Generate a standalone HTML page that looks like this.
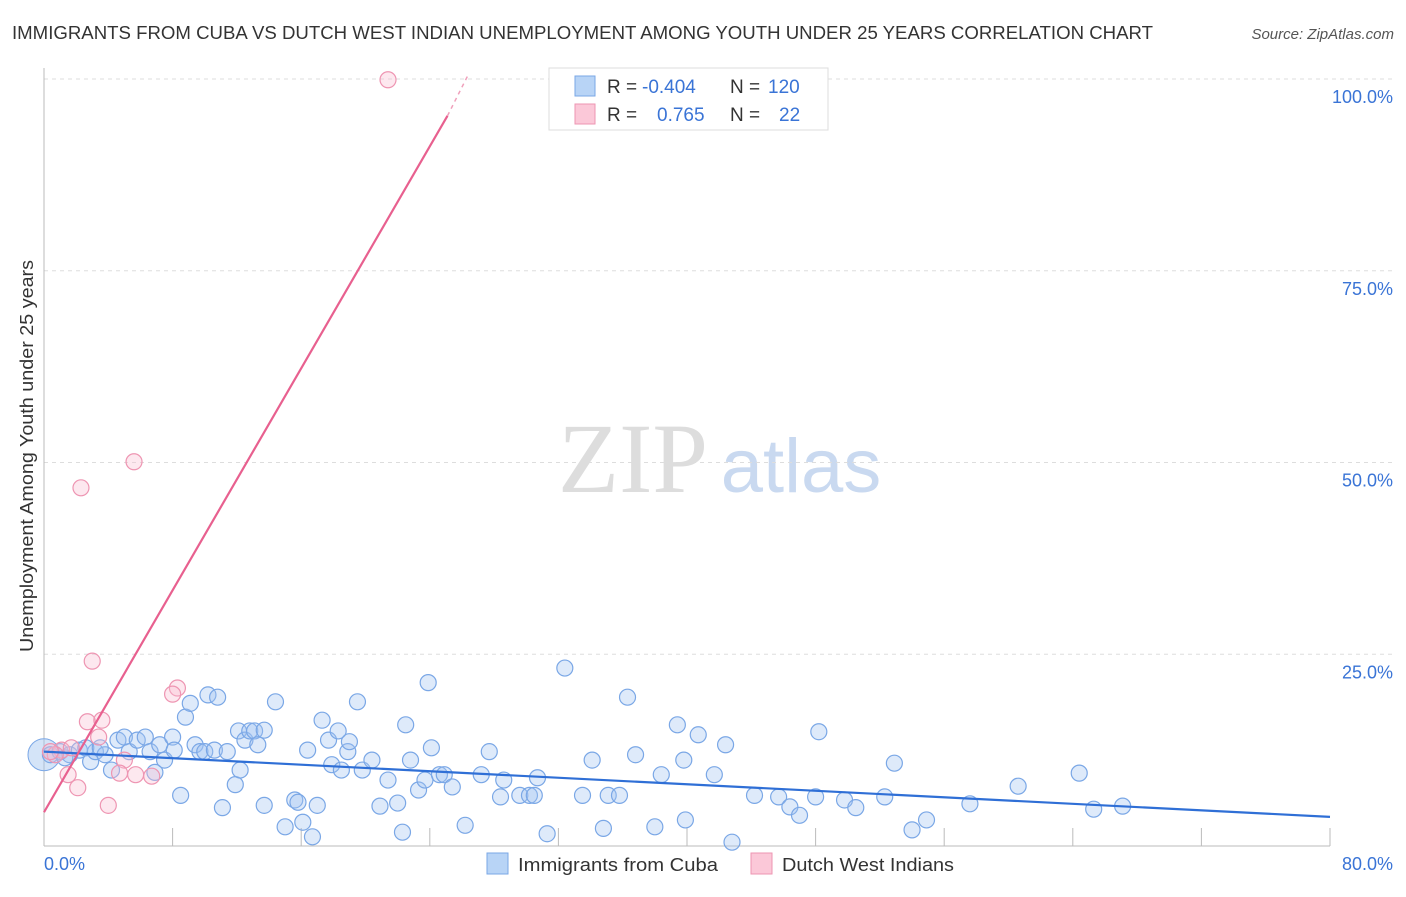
<!DOCTYPE html>
<html><head><meta charset="utf-8"><style>
body{margin:0;background:#fff;font-family:"Liberation Sans",sans-serif;}
svg text{font-family:"Liberation Sans",sans-serif;}
</style></head><body>
<svg id="chart" width="1406" height="892">
<text x="12" y="39" font-size="18" fill="#333" textLength="1141" lengthAdjust="spacingAndGlyphs">IMMIGRANTS FROM CUBA VS DUTCH WEST INDIAN UNEMPLOYMENT AMONG YOUTH UNDER 25 YEARS CORRELATION CHART</text>
<text x="1394" y="39" font-size="15" fill="#555" font-style="italic" text-anchor="end">Source: ZipAtlas.com</text>
<text x="633" y="492" font-size="100" fill="#ddd" style="font-family:'Liberation Serif',serif" text-anchor="middle">ZIP</text>
<text x="801" y="492" font-size="76" fill="#c9d9f0" text-anchor="middle">atlas</text>
<text transform="translate(33,456) rotate(-90)" font-size="18" fill="#333" text-anchor="middle" textLength="392" lengthAdjust="spacingAndGlyphs">Unemployment Among Youth under 25 years</text>
<g id="grid"></g><g id="axes"></g><g id="marks"></g>
<g>
<rect x="549" y="68" width="279" height="62" fill="#fff" stroke="#ddd"/>
<rect x="575" y="76" width="20" height="20" fill="#b8d4f6" stroke="#7aa7e6"/>
<rect x="575" y="104" width="20" height="20" fill="#fbc8d8" stroke="#ee95b2"/>
<text x="607" y="93" font-size="19" fill="#333">R = <tspan fill="#3a74d6" x="642">-0.404</tspan></text>
<text x="730" y="93" font-size="19" fill="#333">N = <tspan fill="#3a74d6" x="768">120</tspan></text>
<text x="607" y="121" font-size="19" fill="#333">R = <tspan fill="#3a74d6" x="657">0.765</tspan></text>
<text x="730" y="121" font-size="19" fill="#333">N = <tspan fill="#3a74d6" x="779">22</tspan></text>
</g>
<g>
<rect x="487" y="853" width="21" height="21" fill="#b8d4f6" stroke="#7aa7e6"/>
<text x="518" y="871" font-size="18" fill="#333" textLength="200" lengthAdjust="spacingAndGlyphs">Immigrants from Cuba</text>
<rect x="751" y="853" width="21" height="21" fill="#fbc8d8" stroke="#ee95b2"/>
<text x="782" y="871" font-size="18" fill="#333" textLength="172" lengthAdjust="spacingAndGlyphs">Dutch West Indians</text>
</g>
</svg>
<script>
const blueX=[0.4,1.0,1.6,2.2,2.9,3.2,3.8,4.2,4.6,5.0,5.3,5.8,6.3,6.6,6.9,7.2,7.5,8.0,8.1,8.5,8.8,9.1,9.4,9.7,10.0,10.2,10.6,10.8,11.1,11.4,11.9,12.1,12.2,12.5,12.8,13.1,13.3,13.7,13.7,14.4,15.0,15.6,15.8,16.1,16.4,16.7,17.0,17.3,17.7,17.9,18.3,18.5,18.9,19.0,19.5,19.8,20.4,20.9,21.4,22.0,22.3,22.5,22.8,23.3,23.7,23.9,24.1,24.6,24.9,25.4,26.2,27.2,27.7,28.4,28.6,29.6,30.2,30.5,30.7,31.3,32.4,33.5,34.1,34.8,35.1,35.8,36.3,36.8,38.0,38.4,39.4,39.8,39.9,40.7,41.7,42.4,42.8,44.2,45.7,46.4,47.0,48.0,48.2,49.8,50.5,52.3,52.9,54.0,54.9,57.6,60.6,64.4,65.3,67.1,1.3,2.6,3.5];
const blueY=[11.9,12.3,11.9,12.5,11.0,12.3,11.9,9.9,13.8,14.2,12.3,13.8,14.2,12.3,9.6,13.2,11.2,14.2,12.5,6.6,16.8,18.6,13.2,12.3,12.3,19.7,12.5,19.4,5.0,12.3,8.0,15.0,9.9,13.8,15.0,15.0,13.2,15.1,5.3,18.8,2.5,6.0,5.7,3.1,12.5,1.2,5.3,16.4,13.8,10.6,15.0,9.9,12.3,13.6,18.8,9.9,11.2,5.2,8.6,5.6,1.8,15.8,11.2,7.3,8.6,21.3,12.8,9.3,9.3,7.7,2.7,9.3,12.3,6.4,8.6,6.6,6.6,6.6,8.9,1.6,23.2,6.6,11.2,2.3,6.6,6.6,19.4,11.9,2.5,9.3,15.8,11.2,3.4,14.5,9.3,13.2,0.5,6.6,6.4,5.1,4.0,6.4,14.9,6.0,5.0,6.4,10.8,2.1,3.4,5.5,7.8,9.5,4.8,5.2,11.5,12.8,12.8];
const pinkX=[21.4,5.6,2.3,3.0,8.3,8.0,2.7,3.6,3.4,5.0,1.1,0.7,1.5,2.1,4.0,5.7,6.7,4.7,1.7,0.4];
const pinkY=[99.9,50.1,46.7,24.1,20.6,19.8,16.2,16.4,14.2,11.2,12.5,11.9,9.3,7.6,5.3,9.3,9.1,9.5,12.8,12.3];
const bigBubble=[0,11.9];
const blueTrend=[[0,12.3],[80,3.8]];
const pinkTrendSolid=[[0,4.4],[25.1,95.2]];
const pinkTrendDash=[[25.1,95.2],[26.4,100.6]];
const yTicks=[100,75,50,25];
const yTickLabels=["100.0%","75.0%","50.0%","25.0%"];
const xTicks=[0,8,16,24,32,40,48,56,64,72,80];
const xLabels=[[0,"0.0%"],[80,"80.0%"]];
const NS="http://www.w3.org/2000/svg";
const X=v=>44+v*16.075, Y=v=>846-v*7.67;
function mk(parent,tag,at){const e=document.createElementNS(NS,tag);for(const k in at)e.setAttribute(k,at[k]);document.getElementById(parent).appendChild(e);return e;}
yTicks.forEach((t,i)=>{
 const l=mk('grid','line',{x1:44,x2:1394,y1:Y(t),y2:Y(t),stroke:'#ddd','stroke-dasharray':'4,4'});
 
 
 const tx=mk('grid','text',{x:1393,y:Y(t)+24,'font-size':18,fill:'#3a74d6','text-anchor':'end'});
 tx.textContent=yTickLabels[i];
 
 
});
const ax=mk('axes','line',{x1:44,x2:44,y1:68,y2:846,stroke:'#bbb'});


const bx=mk('axes','line',{x1:44,x2:1330,y1:846,y2:846,stroke:'#bbb'});


xTicks.forEach(t=>{
 const l=mk('axes','line',{x1:X(t),x2:X(t),y1:828,y2:846,stroke:'#bbb'});
 
 
});
xLabels.forEach(([v,s])=>{
 const tx=mk('axes','text',{x:v===0?X(v):1393,y:870,'font-size':18,fill:'#3a74d6','text-anchor':v===0?'start':'end'});
 tx.textContent=s;
 
 
});
const bb=mk('marks','circle',{cx:X(bigBubble[0]),cy:Y(bigBubble[1]),r:16,fill:'rgba(160,195,240,0.45)',stroke:'#7aa7e6'});


blueX.forEach((x,i)=>{
 const c=mk('marks','circle',{cx:X(x),cy:Y(blueY[i]),r:8,fill:'rgba(160,195,240,0.35)',stroke:'#7aa7e6','stroke-width':1.2});
 
 
});
pinkX.forEach((x,i)=>{
 const c=mk('marks','circle',{cx:X(x),cy:Y(pinkY[i]),r:8,fill:'rgba(250,190,210,0.35)',stroke:'#ee95b2','stroke-width':1.2});
 
 
});
const bl=mk('marks','line',{x1:X(blueTrend[0][0]),y1:Y(blueTrend[0][1]),x2:X(blueTrend[1][0]),y2:Y(blueTrend[1][1]),stroke:'#2f6fd6','stroke-width':2.2});


const pl=mk('marks','line',{x1:X(pinkTrendSolid[0][0]),y1:Y(pinkTrendSolid[0][1]),x2:X(pinkTrendSolid[1][0]),y2:Y(pinkTrendSolid[1][1]),stroke:'#e8608f','stroke-width':2.2});


const pd=mk('marks','line',{x1:X(pinkTrendDash[0][0]),y1:Y(pinkTrendDash[0][1]),x2:X(pinkTrendDash[1][0]),y2:Y(pinkTrendDash[1][1]),stroke:'#f0a0bb','stroke-width':1.5,'stroke-dasharray':'4,4'});


</script>
</body></html>
